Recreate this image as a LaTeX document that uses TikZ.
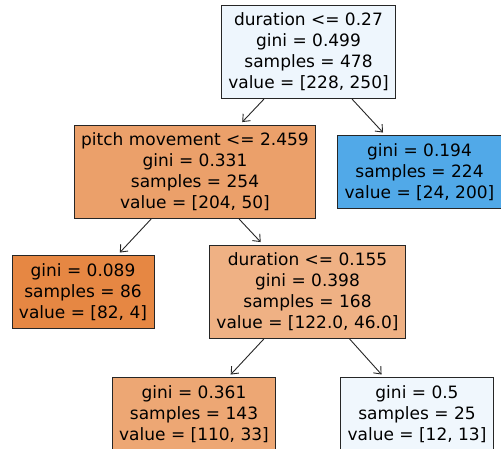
\documentclass[tikz,border=0pt]{standalone}
\usepackage{fontspec}
\setmainfont{DejaVu Sans}
\usetikzlibrary{arrows.meta}

\definecolor{rootblue}{RGB}{238,246,253}
\definecolor{pitchorange}{RGB}{235,160,106}
\definecolor{leafblue}{RGB}{81,169,232}
\definecolor{leaforange}{RGB}{230,135,67}
\definecolor{durorange}{RGB}{239,177,132}
\definecolor{lowerorange}{RGB}{237,167,116}
\definecolor{paleblue}{RGB}{240,247,253}

\tikzset{
  treenode/.style={draw=black!85, line width=0.9pt, align=center,
    inner xsep=7pt, inner ysep=7.5pt,
    font=\fontsize{17}{21}\selectfont},
  branch/.style={->, line width=0.9pt, black!85, shorten >=4pt}
}

\begin{document}
\begin{tikzpicture}[x=1pt, y=-1pt, >={Straight Barb[length=6pt,width=10pt]}]
    \clip (0,0) rectangle (501,448);

    % Wurzel
    \node[treenode, fill=rootblue] (root) at (308.5,52)
      {duration <= 0.27\\gini = 0.499\\samples = 478\\value = [228, 250]};

    % zweite Ebene
    \node[treenode, fill=pitchorange] (pitch) at (195,172)
      {pitch movement <= 2.459\\gini = 0.331\\samples = 254\\value = [204, 50]};
    \node[treenode, fill=leafblue] (rightleaf) at (419.5,172)
      {gini = 0.194\\samples = 224\\value = [24, 200]};

    % dritte Ebene
    \node[treenode, fill=leaforange] (leftleaf) at (83,292)
      {gini = 0.089\\samples = 86\\value = [82, 4]};
    \node[treenode, fill=durorange] (dur) at (307.5,292)
      {duration <= 0.155\\gini = 0.398\\samples = 168\\value = [122.0, 46.0]};

    % vierte Ebene (unten abgeschnitten)
    \node[treenode, fill=lowerorange] (lowleft) at (194,414)
      {gini = 0.361\\samples = 143\\value = [110, 33]};
    \node[treenode, fill=paleblue] (lowright) at (417,414)
      {gini = 0.5\\samples = 25\\value = [12, 13]};

    % Kanten
    \draw[branch] (root) -- (pitch);
    \draw[branch] (root) -- (rightleaf);
    \draw[branch] (pitch) -- (leftleaf);
    \draw[branch] (pitch) -- (dur);
    \draw[branch] (dur) -- (lowleft);
    \draw[branch] (dur) -- (lowright);
\end{tikzpicture}
\end{document}
